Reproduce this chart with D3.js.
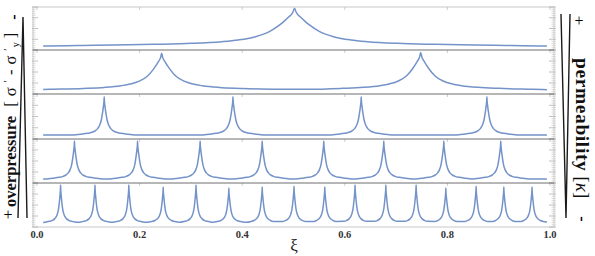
<!DOCTYPE html>
<html><head><meta charset="utf-8">
<script src="https://cdn.jsdelivr.net/npm/d3@7"></script>
<style>html,body{margin:0;padding:0;background:#fff;} svg{display:block}</style>
</head><body><svg id="c" width="595" height="256"></svg>
<script>
// ---- data ----
const xTickValues = [0, 0.2, 0.4, 0.6, 0.8, 1.0];
const xTickLabels = ["0.0", "0.2", "0.4", "0.6", "0.8", "1.0"];

const peaksP1 = [0.502];
const peaksP2 = [0.243, 0.748];
const peaksP3 = [0.131, 0.382, 0.632, 0.877];
const peaksP4 = [0.073, 0.196, 0.318, 0.439, 0.559, 0.676, 0.793, 0.904];
const peaksP5 = [0.046, 0.113, 0.179, 0.246, 0.310, 0.374, 0.439, 0.501,
                 0.561, 0.620, 0.680, 0.739, 0.797, 0.856, 0.910, 0.965];

const heightsP1 = [1.02];
const heightsP2 = [0.97, 0.99];
const heightsP3 = [0.98, 0.98, 0.98, 0.98];
const heightsP4 = [1.0, 1.0, 1.0, 1.0, 1.0, 1.0, 1.0, 1.0];
const heightsP5 = [1.0, 1.0, 1.0, 0.95, 1.0, 0.92, 0.95, 0.97,
                   0.95, 1.0, 1.0, 1.0, 0.92, 0.97, 0.95, 0.95];

// relative width of the cusps in each panel (top to bottom)
const spikeWidths = [1, 0.56, 0.12, 0.11, 0.08];

// one cusp profile: distance from peak (xi) -> relative height
const profileOffset = [0, 0.003, 0.012, 0.02, 0.029, 0.049, 0.078, 0.11, 0.142, 0.2, 0.273, 0.39, 0.49, 1.3];
const profileValue  = [1, 0.9,   0.76,  0.66, 0.56,  0.38,  0.24,  0.16, 0.115, 0.07, 0.044, 0.02, 0, 0];

const xiDomain = [0.012, 0.994];

const panelPeaks = [peaksP1, peaksP2, peaksP3, peaksP4, peaksP5];
const panelHeights = [heightsP1, heightsP2, heightsP3, heightsP4, heightsP5];

// ---- layout ----
const svg = d3.select("#c");
svg.append("rect").attr("width", 595).attr("height", 256).attr("fill", "#fff");

const x = d3.scaleLinear().domain([0, 1]).range([37, 550]);
const frameL = 33, frameR = 554;
const panelTops = [7, 50, 94, 139, 183];
const panelBottoms = [50, 94, 139, 183, 227];

svg.append("clipPath").attr("id", "clipc")
  .append("rect").attr("x", x(xiDomain[0])).attr("y", 0)
  .attr("width", x(xiDomain[1]) - x(xiDomain[0])).attr("height", 256);

function panelPoints(peaks, heights, w) {
  const pts = [];
  peaks.forEach((p, i) => {
    const lo = i === 0 ? -2 : (peaks[i - 1] + p) / 2;
    const hi = i === peaks.length - 1 ? 3 : (p + peaks[i + 1]) / 2;
    profileOffset.forEach((d, j) => {
      const v = profileValue[j] * heights[i];
      const dd = d * w;
      if (j === 0) pts.push([p, v]);
      else {
        if (p - dd > lo) pts.push([p - dd, v]);
        if (p + dd < hi) pts.push([p + dd, v]);
      }
    });
  });
  pts.sort((a, b) => a[0] - b[0]);
  return pts;
}

// frame
const frame = svg.append("g");
frame.append("rect").attr("x", frameL).attr("y", panelTops[0])
  .attr("width", frameR - frameL).attr("height", panelBottoms[4] - panelTops[0])
  .attr("fill", "none").attr("stroke", "#c8c8c8").attr("stroke-width", 1);

panelTops.forEach((top, k) => {
  const bottom = panelBottoms[k];
  const y = d3.scaleLinear().domain([0, 1]).range([bottom - 4, top + 2]);
  const ys = d3.scaleLinear().domain([0, 1]).range([bottom, top]);
  const tv = d3.range(0, 21).map(i => i / 20);
  tv.forEach((t, i) => {
    const len = i % 5 === 0 ? 5 : 2.5;
    frame.append("line").attr("x1", frameL - 1).attr("x2", frameL + len)
      .attr("y1", ys(t)).attr("y2", ys(t))
      .attr("stroke", i % 5 === 0 ? "#b0b0b0" : "#d0d0d0").attr("stroke-width", 0.8);
    frame.append("line").attr("x1", frameR - len).attr("x2", frameR + 2)
      .attr("y1", ys(t)).attr("y2", ys(t))
      .attr("stroke", i % 5 === 0 ? "#b0b0b0" : "#d0d0d0").attr("stroke-width", 0.8);
  });
  xTickValues.forEach(t => {
    frame.append("line").attr("x1", x(t)).attr("x2", x(t))
      .attr("y1", top).attr("y2", top + 3).attr("stroke", "#c0c0c0").attr("stroke-width", 0.8);
  });
  if (k > 0) {
    frame.append("line").attr("x1", frameL).attr("x2", frameR)
      .attr("y1", top).attr("y2", top).attr("stroke", "#6e6e6e").attr("stroke-width", 1);
  }
  const pts = panelPoints(panelPeaks[k], panelHeights[k], spikeWidths[k]);
  const line = d3.line().x(d => x(d[0])).y(d => y(d[1])).curve(d3.curveMonotoneX);
  svg.append("path").attr("d", line(pts)).attr("clip-path", "url(#clipc)")
    .attr("fill", "none").attr("stroke", "#7493c9").attr("stroke-width", 1.5)
    .attr("stroke-linejoin", "round");
});

// bottom axis labels
const serif = "'Liberation Serif', 'DejaVu Serif', Times, serif";
svg.append("g").selectAll("text").data(xTickValues).join("text")
  .attr("x", d => x(d)).attr("y", 238).attr("text-anchor", "middle")
  .attr("font-family", serif).attr("font-weight", "bold").attr("font-size", 10.5)
  .attr("fill", "#333").text((d, i) => xTickLabels[i]);

svg.append("text").attr("x", 294).attr("y", 251).attr("text-anchor", "middle")
  .attr("font-family", serif).attr("font-size", 17).attr("fill", "#222").text("ξ");

// left wedge + label
svg.append("path").attr("d", "M18,218 L23,17 L27,218").attr("fill", "none")
  .attr("stroke", "#1a1a1a").attr("stroke-width", 1.4);
const lt = svg.append("text").attr("transform", "translate(16,207) rotate(-90)")
  .attr("font-family", serif).attr("font-size", 16.5).attr("fill", "#111");
lt.append("tspan").attr("font-weight", "bold").text("overpressure");
lt.append("tspan").attr("letter-spacing", 5).text(" [σ");
lt.append("tspan").attr("font-size", 11).attr("dy", -5).attr("letter-spacing", 5).text("′");
lt.append("tspan").attr("dy", 5).attr("letter-spacing", 5).text("-σ");
lt.append("tspan").attr("font-size", 11).attr("dy", -5).attr("letter-spacing", 1).text("′");
lt.append("tspan").attr("font-size", 10).attr("dy", 8).attr("letter-spacing", 4).text("y");
lt.append("tspan").attr("dy", -3).text("]");

svg.append("text").attr("transform", "translate(13,17) rotate(-90)")
  .attr("text-anchor", "middle").attr("dy", "0.35em")
  .attr("font-family", serif).attr("font-weight", "bold").attr("font-size", 16).text("-");
svg.append("text").attr("x", 8).attr("y", 214).attr("text-anchor", "middle").attr("dy", "0.35em")
  .attr("font-family", serif).attr("font-size", 16).text("+");

// right wedge + label
svg.append("path").attr("d", "M561,14 L566,218 L570,14").attr("fill", "none")
  .attr("stroke", "#1a1a1a").attr("stroke-width", 1.4);
const rt = svg.append("text").attr("transform", "translate(576,58) rotate(90)")
  .attr("font-family", serif).attr("font-size", 19.5).attr("fill", "#111");
rt.append("tspan").attr("font-weight", "bold").attr("letter-spacing", 0.6).text("permeability");
rt.append("tspan").text(" [");
rt.append("tspan").attr("font-style", "italic").text("κ");
rt.append("tspan").text("]");

svg.append("text").attr("x", 579).attr("y", 20).attr("text-anchor", "middle").attr("dy", "0.35em")
  .attr("font-family", serif).attr("font-size", 16).text("+");
svg.append("text").attr("transform", "translate(583,219) rotate(90)")
  .attr("text-anchor", "middle").attr("dy", "0.35em")
  .attr("font-family", serif).attr("font-weight", "bold").attr("font-size", 16).text("-");
</script></body></html>
